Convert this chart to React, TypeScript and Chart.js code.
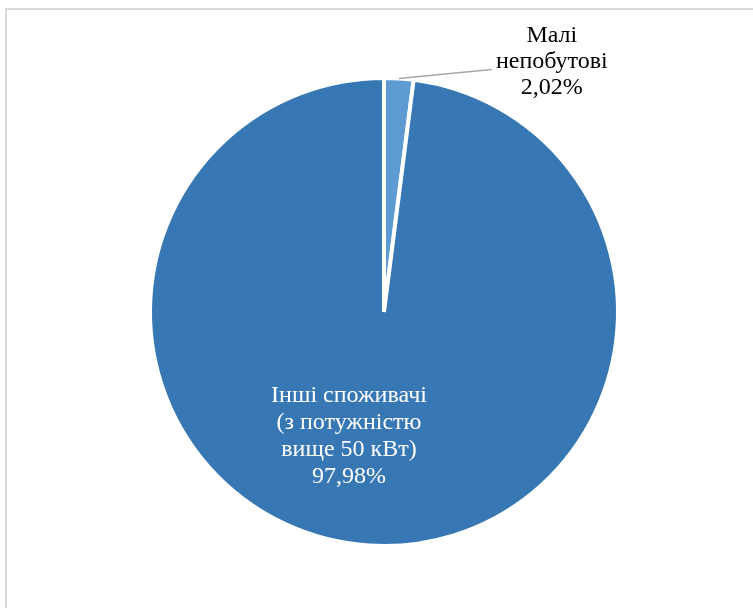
import React, { useEffect, useRef } from "react";
import { Chart, registerables } from "chart.js";

Chart.register(...registerables);

const categories = ["Малі непобутові", "Інші споживачі (з потужністю вище 50 кВт)"];
const values = [2.02, 97.98];
const percentLabels = ["2,02%", "97,98%"];
const labelLines = [
  ["Малі", "непобутові"],
  ["Інші споживачі", "(з потужністю", "вище 50 кВт)"],
];
const colors = ["#5E9BD3", "#3777B4"];

const FONT = "24px 'Liberation Serif', 'Times New Roman', serif";

const labelPlugin = {
  id: "pieLabels",
  beforeDraw(chart: any) {
    const ctx = chart.ctx;
    ctx.save();
    ctx.fillStyle = "#d9d9d9";
    ctx.fillRect(5, 8, chart.width, 2);
    ctx.fillRect(5, 8, 2, chart.height);
    ctx.restore();
  },
  afterDraw(chart: any) {
    const ctx = chart.ctx;
    const meta = chart.getDatasetMeta(0);
    const small = meta.data[0];
    const big = meta.data[1];
    ctx.save();
    ctx.font = FONT;
    ctx.textAlign = "center";
    ctx.textBaseline = "alphabetic";

    // small slice: outside label with leader line
    const mid = (small.startAngle + small.endAngle) / 2;
    const sx = small.x + small.outerRadius * Math.cos(mid);
    const sy = small.y + small.outerRadius * Math.sin(mid);
    const ex = sx + 93;
    const ey = sy - 9;
    ctx.strokeStyle = "#a6a6a6";
    ctx.lineWidth = 1.5;
    ctx.beginPath();
    ctx.moveTo(sx, sy);
    ctx.lineTo(ex, ey);
    ctx.stroke();
    ctx.fillStyle = "#000000";
    const lines0 = [...labelLines[0], percentLabels[0]];
    lines0.forEach((t, i) => {
      ctx.fillText(t, ex + 60, ey - 27 + i * 26);
    });

    // big slice: inside label
    ctx.fillStyle = "#ffffff";
    const lines1 = [...labelLines[1], percentLabels[1]];
    lines1.forEach((t, i) => {
      ctx.fillText(t, big.x - 35, big.y + 90 + i * 27);
    });
    ctx.restore();
  },
};

export default function App() {
  const ref = useRef<HTMLCanvasElement>(null);
  useEffect(() => {
    document.body.style.margin = "0";
    const chart = new Chart(ref.current!, {
      type: "pie",
      data: {
        labels: categories,
        datasets: [
          {
            data: values,
            backgroundColor: colors,
            borderColor: "#ffffff",
            borderWidth: 4,
          },
        ],
      },
      options: {
        responsive: false,
        animation: false,
        radius: 234,
        layout: { padding: { left: 15, right: 0, top: 16, bottom: 0 } },
        plugins: {
          legend: { display: false },
          tooltip: { enabled: false },
        },
      } as any,
      plugins: [labelPlugin],
    });
    return () => chart.destroy();
  }, []);
  return (
    <div style={{ width: 753, height: 608, background: "#ffffff" }}>
      <canvas ref={ref} width={753} height={608} style={{ display: "block" }} />
    </div>
  );
}
